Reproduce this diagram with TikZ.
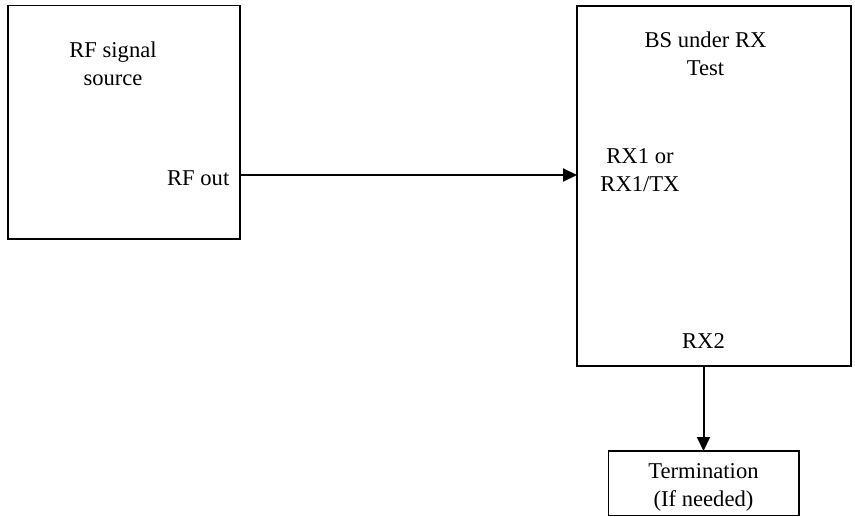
\documentclass[tikz,border=0pt]{standalone}
\usepackage{fontspec}
\setmainfont{Liberation Serif}
\usetikzlibrary{arrows.meta}
\newcommand{\twol}[2]{\begin{tabular}[t]{@{}c@{}}#1\\#2\end{tabular}}
\begin{document}
\begin{tikzpicture}[x=1pt,y=-1pt,
  box/.style={draw=black, line width=1.8pt, inner sep=0pt, outer sep=0pt, anchor=north west},
  lbl/.style={inner sep=0pt, anchor=base, font=\fontsize{22.6}{28}\selectfont},
  arr/.style={line width=2pt, -{Triangle[length=14pt,width=13pt]}}]
\useasboundingbox (0,0) rectangle (855,517);
% boxes
\node[box, minimum width=231.7pt, minimum height=233.5pt] (src) at (8.3,5.5) {};
\node[box, minimum width=274pt, minimum height=360pt] (dut) at (577,6) {};
\node[box, minimum width=190.5pt, minimum height=64.5pt] (term) at (608.5,451) {};
% labels
\node[lbl] (srcl) at (113,57) {\twol{RF signal}{source}};
\node[lbl, anchor=base east] (rfout) at (229.5,185) {RF out};
\node[lbl] (dutl) at (705.5,47.5) {\twol{BS under RX}{Test}};
\node[lbl] (rx1) at (640,163) {\twol{RX1 or}{RX1/TX}};
\node[lbl] (rx2) at (703.5,348) {RX2};
\node[lbl] (terml) at (703.5,478) {\twol{Termination}{(If needed)}};
% connector ports
\coordinate (p1) at (240,175);
\coordinate (p2) at (703.5,366);
\draw[arr] (src.east |- p1) -- (dut.west |- p1);
\draw[arr] (dut.south -| p2) -- (term.north -| p2);
\end{tikzpicture}
\end{document}
